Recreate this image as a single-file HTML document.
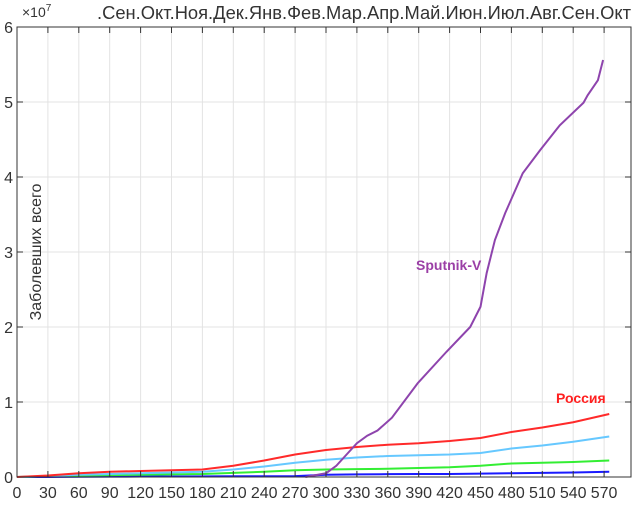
<!DOCTYPE html>
<html><head><meta charset="utf-8"><style>
body{margin:0;background:#fff;}
svg text{font-family:"Liberation Sans",sans-serif;}
</style></head><body>
<svg id="c" width="640" height="508" xmlns="http://www.w3.org/2000/svg">
<rect width="640" height="508" fill="#fff"/>
<g id="grid"></g><g id="series"></g><g id="axes"></g>
<text x="22" y="17" font-size="14" fill="#333">×10<tspan dy="-6" font-size="10">7</tspan></text>
<text x="97" y="19" font-size="18" fill="#333" textLength="534" lengthAdjust="spacingAndGlyphs">.Сен.Окт.Ноя.Дек.Янв.Фев.Мар.Апр.Май.Июн.Июл.Авг.Сен.Окт</text>
<text transform="translate(41,252) rotate(-90)" font-size="16" fill="#333" text-anchor="middle">Заболевших всего</text>
<text x="416" y="270" font-size="14" font-weight="bold" fill="#9b3fa6">Sputnik-V</text>
<text x="556" y="403" font-size="14" font-weight="bold" fill="#ff2020">Россия</text>
</svg>
<script>
const xTicks=[0,30,60,90,120,150,180,210,240,270,300,330,360,390,420,450,480,510,540,570];
const yTicks=[0,1,2,3,4,5,6];
const sputDays=[280,300,310,320,330,340,350,364,389,417,440,450,456,464,474,491,508,527,550,554,564,569];
const sputVals=[0,0.05,0.15,0.3,0.45,0.55,0.62,0.79,1.25,1.67,2.0,2.27,2.72,3.16,3.52,4.05,4.36,4.69,4.99,5.09,5.29,5.56];
const days=[0,30,60,90,120,150,180,210,240,270,300,330,360,390,420,450,480,510,540,575];
const russia=[0,0.02,0.05,0.07,0.08,0.09,0.1,0.15,0.22,0.3,0.36,0.4,0.43,0.45,0.48,0.52,0.6,0.66,0.73,0.84];
const lightblue=[0,0.01,0.03,0.04,0.05,0.06,0.07,0.1,0.14,0.19,0.23,0.26,0.28,0.29,0.3,0.32,0.38,0.42,0.47,0.54];
const green=[0,0.01,0.02,0.025,0.03,0.035,0.04,0.055,0.07,0.09,0.1,0.105,0.11,0.12,0.13,0.15,0.18,0.19,0.2,0.22];
const blue=[0,0,0.003,0.005,0.006,0.007,0.008,0.01,0.01,0.012,0.03,0.035,0.038,0.04,0.04,0.045,0.05,0.055,0.06,0.07];
const X=d=>17+d*1.03, Y=v=>477-v*75;
const NS="http://www.w3.org/2000/svg";
function mk(t,a,p){const e=document.createElementNS(NS,t);for(const k in a)e.setAttribute(k,a[k]);p.appendChild(e);return e;}
const grid=document.getElementById('grid'),axes=document.getElementById('axes'),ser=document.getElementById('series');
xTicks.forEach(d=>{
 const l=mk('line',{x1:X(d),x2:X(d),y1:27,y2:477,stroke:'#e3e3e3'},grid);
 
 
 mk('line',{x1:X(d),x2:X(d),y1:477,y2:471,stroke:'#333'},axes);
 mk('line',{x1:X(d),x2:X(d),y1:27,y2:33,stroke:'#333'},axes);
 const t=mk('text',{x:X(d),y:498,'font-size':16,fill:'#333','text-anchor':'middle'},axes);
 t.textContent=d;
 
 
});
yTicks.forEach(v=>{
 const l=mk('line',{x1:17,x2:631,y1:Y(v),y2:Y(v),stroke:'#e3e3e3'},grid);
 
 
 mk('line',{x1:17,x2:23,y1:Y(v),y2:Y(v),stroke:'#333'},axes);
 mk('line',{x1:631,x2:625,y1:Y(v),y2:Y(v),stroke:'#333'},axes);
 const t=mk('text',{x:13,y:Y(v)+6,'font-size':16,fill:'#333','text-anchor':'end'},axes);
 t.textContent=v;
 
 
});
const box=mk('rect',{x:17,y:27,width:614,height:450,fill:'none',stroke:'#333'},axes);


function line(ds,vs,c,name){
 const p=mk('polyline',{points:ds.map((d,i)=>X(d)+','+Y(vs[i])).join(' '),fill:'none',stroke:c,'stroke-width':2},ser);
 
 
}
line(days,blue,'#1a1aff','series-blue');
line(days,green,'#33ee33','series-green');
line(days,lightblue,'#66c8ff','series-lightblue');
line(days,russia,'#ff2a2a','series-russia');
line(sputDays,sputVals,'#8e44ad','series-sputnik-v');
</script>
</body></html>
